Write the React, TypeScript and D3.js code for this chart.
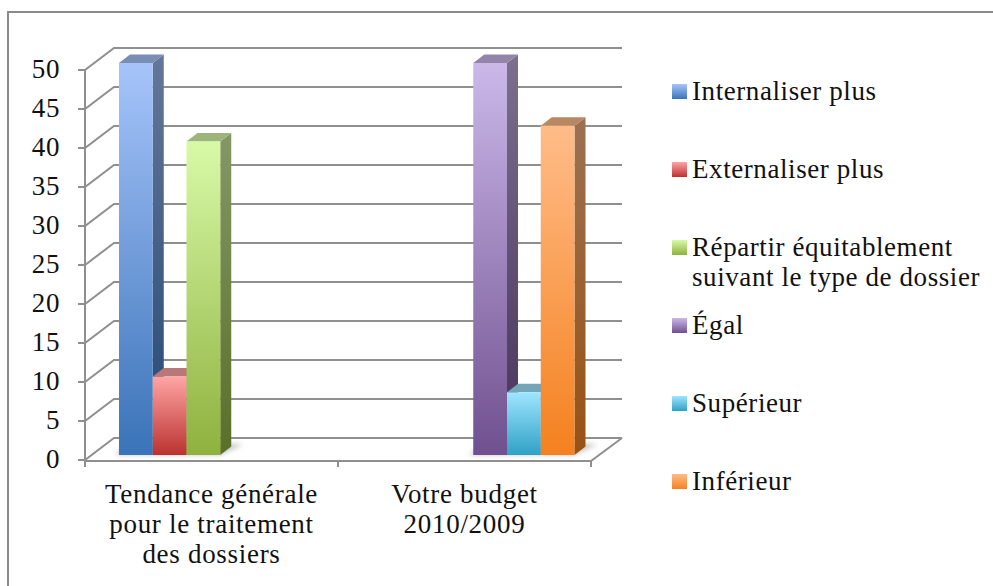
import React, { useEffect, useRef } from 'react';
import * as d3 from 'd3';

const categories = ['Tendance générale pour le traitement des dossiers', 'Votre budget 2010/2009'];
const categoryLines = [
  ['Tendance générale', 'pour le traitement', 'des dossiers'],
  ['Votre budget', '2010/2009'],
];
const seriesNames = ['Internaliser plus', 'Externaliser plus', 'Répartir équitablement suivant le type de dossier', 'Égal', 'Supérieur', 'Inférieur'];
const legendLines = [
  ['Internaliser plus'],
  ['Externaliser plus'],
  ['Répartir équitablement', 'suivant le type de dossier'],
  ['Égal'],
  ['Supérieur'],
  ['Inférieur'],
];
// une valeur par catégorie, null = pas de barre
const internaliser = [50, null];
const externaliser = [10, null];
const repartir = [40, null];
const egal = [null, 50];
const superieur = [null, 8];
const inferieur = [null, 42];
const seriesValues = [internaliser, externaliser, repartir, egal, superieur, inferieur];
const yTicks = [0, 5, 10, 15, 20, 25, 30, 35, 40, 45, 50];
const lightColors = ['#A6C4FA', '#FFA5A4', '#D8FAA8', '#CBB8E9', '#9FE5FF', '#FFBC88'];
const darkColors = ['#3A73B8', '#BA3230', '#8FB13E', '#70508F', '#2FA1C5', '#F4811F'];

const FONT = '"Liberation Serif", serif';
const TEXT = '#111111';
const GRID = '#8f8f8f';

const App = () => {
  const svgRef = useRef<SVGSVGElement | null>(null);

  useEffect(() => {
    if (!svgRef.current) return;
    const svg = d3.select(svgRef.current);
    svg.selectAll('*').remove();

    const depthX = 29;
    const depthY = -22;
    const barDepthX = 11;
    const barDepthY = -8.5;

    const y = d3.scaleLinear().domain([0, 50]).range([460, 70]);
    const yBar = d3.scaleLinear().domain([0, 50]).range([455, 63]);
    const x0 = d3.scaleBand<string>().domain(categories).range([85, 591]);
    const x1 = d3.scaleBand<string>().domain(seriesNames).range([34, 236.5]);

    const defs = svg.append('defs');
    const addGrad = (id: string, top: string, bottom: string) => {
      const g = defs.append('linearGradient').attr('id', id).attr('x1', 0).attr('y1', 0).attr('x2', 0).attr('y2', 1);
      g.append('stop').attr('offset', '0%').attr('stop-color', top);
      g.append('stop').attr('offset', '100%').attr('stop-color', bottom);
    };
    seriesNames.forEach((_, i) => {
      addGrad(`front-${i}`, lightColors[i], darkColors[i]);
      addGrad(`side-${i}`, d3.color(lightColors[i])!.darker(1.4).toString(), d3.color(darkColors[i])!.darker(1.3).toString());
    });
    defs.append('filter').attr('id', 'soft').attr('x', '-20%').attr('y', '-100%').attr('width', '140%').attr('height', '300%')
      .append('feGaussianBlur').attr('stdDeviation', 2.5);

    // cadre coupé à droite et en bas
    svg.append('path')
      .attr('d', 'M8,586V12H993')
      .attr('fill', 'none')
      .attr('stroke', '#8a8a8a')
      .attr('stroke-width', 2);

    // grille du mur et ticks de l'axe
    const grid = svg.append('g').attr('fill', 'none').attr('stroke', GRID).attr('stroke-width', 2);
    yTicks.forEach((t) => {
      grid.append('path')
        .attr('d', d3.line()([[78, y(t)], [85, y(t)], [85 + depthX, y(t) + depthY], [622, y(t) + depthY]]));
    });
    grid.append('line').attr('x1', 85).attr('x2', 85).attr('y1', y(50)).attr('y2', 467);

    // sol
    grid.append('path').attr('d', d3.line()([[85, y(0) + 1], [591, y(0) + 1], [622, y(0) + depthY]]));
    [85, 338, 591].forEach((tx) => {
      grid.append('line').attr('x1', tx).attr('x2', tx).attr('y1', y(0) + 1).attr('y2', 467);
    });

    // ombres et barres
    const bars = svg.append('g');
    categories.forEach((cat, c) => {
      const idx = seriesNames.map((_, s) => s).filter((s) => seriesValues[s][c] !== null);
      const left = x0(cat)! + x1(seriesNames[idx[0]])!;
      const right = x0(cat)! + x1(seriesNames[idx[idx.length - 1]])! + x1.bandwidth();
      bars.append('polygon')
        .attr('points', [[left - 4, 455], [right, 455], [right + barDepthX + 12, 444], [left + 8, 444]].join(' '))
        .attr('fill', '#c4c4c4')
        .attr('filter', 'url(#soft)');
    });
    seriesNames.forEach((name, s) => {
      categories.forEach((cat, c) => {
        const v = seriesValues[s][c];
        if (v === null) return;
        const xl = x0(cat)! + x1(name)!;
        const xr = xl + x1.bandwidth();
        const yt = yBar(v);
        const yb = yBar(0);
        bars.append('polygon')
          .attr('points', [[xr, yt], [xr + barDepthX, yt + barDepthY], [xr + barDepthX, yb + barDepthY], [xr, yb]].join(' '))
          .attr('fill', `url(#side-${s})`);
        bars.append('polygon')
          .attr('points', [[xl, yt], [xr, yt], [xr + barDepthX, yt + barDepthY], [xl + barDepthX, yt + barDepthY]].join(' '))
          .attr('fill', d3.color(lightColors[s])!.darker(0.9).toString());
        bars.append('rect')
          .attr('x', xl).attr('y', yt).attr('width', xr - xl).attr('height', yb - yt)
          .attr('fill', `url(#front-${s})`);
      });
    });

    // labels axe Y
    svg.append('g').selectAll('text').data(yTicks).enter().append('text')
      .attr('x', 60)
      .attr('y', (d) => y(d) + 8)
      .attr('text-anchor', 'end')
      .attr('font-family', FONT)
      .attr('font-size', 27)
      .attr('letter-spacing', 0.6)
      .attr('fill', TEXT)
      .text((d) => d);

    // labels catégories
    categories.forEach((cat, c) => {
      const cx = x0(cat)! + x0.bandwidth() / 2;
      categoryLines[c].forEach((line, l) => {
        svg.append('text')
          .attr('x', cx)
          .attr('y', 503 + l * 30)
          .attr('text-anchor', 'middle')
          .attr('font-family', FONT)
          .attr('font-size', 27)
          .attr('letter-spacing', 0.7)
          .attr('fill', TEXT)
          .text(line);
      });
    });

    // légende
    const legendY = d3.scalePoint<string>().domain(seriesNames).range([91.5, 481.5]);
    seriesNames.forEach((name, s) => {
      const cy = legendY(name)!;
      svg.append('rect')
        .attr('x', 672).attr('y', cy - 7.5).attr('width', 15).attr('height', 15)
        .attr('fill', `url(#front-${s})`);
      legendLines[s].forEach((line, l) => {
        svg.append('text')
          .attr('x', 692)
          .attr('y', cy + 8.5 + l * 30)
          .attr('font-family', FONT)
          .attr('font-size', 27)
          .attr('letter-spacing', 0.58)
          .attr('fill', TEXT)
          .text(line);
      });
    });
  }, []);

  return (
    <svg
      ref={svgRef}
      width={993}
      height={586}
      viewBox="0 0 993 586"
      style={{ position: 'absolute', left: 0, top: 0, background: '#fff' }}
    />
  );
};

export default App;
